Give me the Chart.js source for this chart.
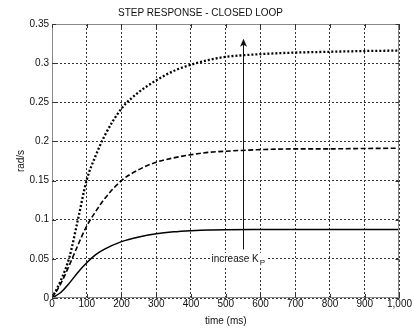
<!DOCTYPE html>
<html><head><meta charset="utf-8">
<script src="https://cdn.jsdelivr.net/npm/chart.js@4"></script>
<style>html,body{margin:0;padding:0;background:#fff}#wrap{width:412px;height:329px}</style>
</head><body><div id="wrap"><canvas id="c" width="412" height="329"></canvas></div>
<script>
// time samples (ms)
const times  = [0, 25, 50, 75, 100, 125, 150, 200, 250, 300, 350, 400, 450, 500, 600, 700, 800, 900, 1000];
// step responses (rad/s) for three proportional gains
const lowKp  = [0, 0.007, 0.019, 0.033, 0.045, 0.055, 0.062, 0.072, 0.078, 0.082, 0.0845, 0.086, 0.087, 0.0873, 0.0874, 0.0874, 0.0875, 0.0875, 0.0875];
const midKp  = [0, 0.018, 0.042, 0.068, 0.092, 0.110, 0.126, 0.150, 0.164, 0.1735, 0.179, 0.183, 0.186, 0.1875, 0.1895, 0.1905, 0.1905, 0.191, 0.1913];
const highKp = [0, 0.022, 0.052, 0.101, 0.151, 0.181, 0.206, 0.242, 0.263, 0.278, 0.290, 0.298, 0.304, 0.308, 0.3115, 0.3135, 0.3145, 0.3155, 0.316];
// tick labels
const xTicks = [0, 100, 200, 300, 400, 500, 600, 700, 800, 900, 1000];
const yTicks = [0, 0.05, 0.1, 0.15, 0.2, 0.25, 0.3, 0.35];
// annotation
const arrowTime = 550, arrowFrom = 0.062, arrowTo = 0.331;
const noteMain = 'increase K', noteSub = 'P', noteValue = 0.05;

const FONT = "'Liberation Sans', Arial, Helvetica, sans-serif";
const toPts = arr => times.map((t, i) => ({x: t, y: arr[i]}));

const overlay = {
  id: 'overlay',
  afterDatasetsDraw(chart) {
    const {ctx, chartArea: a, scales: {x, y}} = chart;
    ctx.save();
    // frame
    ctx.strokeStyle = '#8a8a8a'; ctx.lineWidth = 1;
    ctx.strokeRect(Math.round(a.left) + 0.5, Math.round(a.top) + 0.5, Math.round(a.right - a.left) - 1, Math.round(a.bottom - a.top) - 1);
    // inward ticks
    ctx.strokeStyle = '#333';
    ctx.beginPath();
    xTicks.forEach(v => {
      const px = Math.round(x.getPixelForValue(v)) + 0.5;
      ctx.moveTo(px, a.bottom); ctx.lineTo(px, a.bottom - 4);
      ctx.moveTo(px, a.top); ctx.lineTo(px, a.top + 4);
    });
    yTicks.forEach(v => {
      const py = Math.round(y.getPixelForValue(v)) + 0.5;
      ctx.moveTo(a.left, py); ctx.lineTo(a.left + 4, py);
      ctx.moveTo(a.right, py); ctx.lineTo(a.right - 4, py);
    });
    ctx.stroke();
    // arrow
    const ax = Math.round(x.getPixelForValue(arrowTime)) + 0.5;
    const y0 = y.getPixelForValue(arrowFrom), y1 = y.getPixelForValue(arrowTo);
    ctx.strokeStyle = '#111'; ctx.lineWidth = 1;
    ctx.beginPath(); ctx.moveTo(ax, y0); ctx.lineTo(ax, y1 + 4); ctx.stroke();
    ctx.fillStyle = '#111';
    ctx.beginPath(); ctx.moveTo(ax, y1); ctx.lineTo(ax - 3.5, y1 + 8); ctx.lineTo(ax, y1 + 6); ctx.lineTo(ax + 3.5, y1 + 8); ctx.closePath(); ctx.fill();
    // label
    const ty = y.getPixelForValue(noteValue);
    ctx.font = '10px ' + FONT;
    const wMain = ctx.measureText(noteMain).width;
    ctx.font = '8px ' + FONT;
    const wSub = ctx.measureText(noteSub).width;
    const total = wMain + 1 + wSub;
    const tx = ax - 32;
    ctx.fillStyle = '#fff';
    ctx.fillRect(tx - 1, ty - 6, total + 2, 13);
    ctx.fillStyle = '#111';
    ctx.textBaseline = 'middle'; ctx.textAlign = 'left';
    ctx.font = '10px ' + FONT;
    ctx.fillText(noteMain, tx, ty);
    ctx.font = '8px ' + FONT;
    ctx.fillText(noteSub, tx + wMain + 1, ty + 4);
    ctx.restore();
  }
};

new Chart(document.getElementById('c'), {
  type: 'line',
  data: {
    datasets: [
      {label: 'low Kp', data: toPts(lowKp), borderColor: '#000', borderWidth: 1.5, pointRadius: 0, cubicInterpolationMode: 'monotone'},
      {label: 'mid Kp', data: toPts(midKp), borderColor: '#000', borderWidth: 1.6, borderDash: [5, 2.5], pointRadius: 0, cubicInterpolationMode: 'monotone'},
      {label: 'high Kp', data: toPts(highKp), borderColor: '#000', borderWidth: 2.3, borderDash: [2, 2], pointRadius: 0, cubicInterpolationMode: 'monotone'}
    ]
  },
  options: {
    responsive: false,
    devicePixelRatio: 1,
    animation: false,
    layout: {padding: {left: 0, right: 11, top: 0, bottom: 0}},
    plugins: {
      legend: {display: false},
      tooltip: {enabled: false},
      title: {display: true, text: 'STEP RESPONSE - CLOSED LOOP', color: '#111',
        font: {family: FONT, size: 10, weight: 'normal'}, padding: {top: 7, bottom: 5}}
    },
    scales: {
      x: {
        type: 'linear', min: 0, max: 1000,
        afterFit: s => { s.height = 31; },
        afterBuildTicks: s => { s.ticks = xTicks.map(v => ({value: v})); },
        ticks: {color: '#111', font: {family: FONT, size: 10}, padding: 0, maxRotation: 0, autoSkip: false},
        grid: {color: '#333', lineWidth: 1, drawTicks: false},
        border: {display: false, dash: [2, 2]},
        title: {display: true, text: 'time (ms)', color: '#111', font: {family: FONT, size: 10}, padding: {top: 0, bottom: 2}}
      },
      y: {
        type: 'linear', min: 0, max: 0.35,
        afterFit: s => { s.width = 52; },
        afterBuildTicks: s => { s.ticks = yTicks.map(v => ({value: v})); },
        ticks: {color: '#111', font: {family: FONT, size: 10}, padding: 3, autoSkip: false,
          callback: v => String(+(+v).toFixed(2))},
        grid: {color: '#333', lineWidth: 1, drawTicks: false},
        border: {display: false, dash: [2, 2]},
        title: {display: true, text: 'rad/s', color: '#111', font: {family: FONT, size: 10}, padding: {top: 15, bottom: 0}}
      }
    }
  },
  plugins: [overlay]
});
</script></body></html>
